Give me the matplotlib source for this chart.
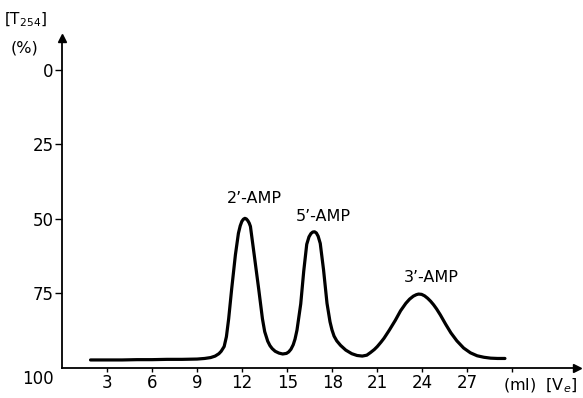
import matplotlib
matplotlib.use("Agg")
import matplotlib.pyplot as plt
from matplotlib.transforms import ScaledTranslation

# Elution profile: volume (ml) vs transmission at 254 nm (%)
volume = [1.9, 3, 4, 5, 6, 7, 8, 9, 9.5, 9.9, 10.2, 10.45, 10.6, 10.8, 10.95, 11.1,
          11.3, 11.55, 11.75, 11.87, 11.98, 12.08, 12.18, 12.28, 12.38, 12.47, 12.55,
          12.8, 13.1, 13.35, 13.5, 13.7, 13.85, 14.0, 14.2, 14.45, 14.7, 14.95, 15.1,
          15.25, 15.4, 15.52, 15.65, 15.9, 16.1, 16.3, 16.45, 16.58, 16.7, 16.82,
          16.94, 17.06, 17.2, 17.42, 17.65, 17.85, 17.98, 18.12, 18.3, 18.55, 18.9,
          19.3, 19.65, 20.0, 20.3, 20.55, 20.8, 21.0, 21.25, 21.45, 21.8, 22.2, 22.55,
          22.9, 23.15, 23.4, 23.6, 23.75, 23.95, 24.15, 24.35, 24.55, 24.75, 24.95,
          25.2, 25.55, 25.9, 26.3, 26.75, 27.2, 27.65, 28.1, 28.55, 29.0, 29.5]
transmission = [97.3, 97.3, 97.3, 97.2, 97.2, 97.1, 97.1, 97.0, 96.8, 96.5, 96.0, 95.2,
                94.4, 92.8, 89.5, 83.5, 73.5, 62, 54.8, 52.3, 50.8, 50.1, 49.8, 50.0,
                50.6, 51.4, 52.5, 62, 73.5, 83.5, 87.8, 91.0, 92.5, 93.5, 94.4, 95.0,
                95.3, 95.1, 94.6, 93.7, 92.2, 90.3, 87.3, 78.5, 67.5, 58.5, 56.0, 54.9,
                54.4, 54.3, 54.7, 55.8, 58.2, 67.1, 78.3, 84.5, 87.2, 89.3, 90.9, 92.4,
                94.0, 95.2, 95.8, 96.0, 95.7, 94.8, 93.8, 92.8, 91.3, 90.0, 87.3, 84,
                80.8, 78.3, 76.9, 75.9, 75.4, 75.2, 75.3, 75.8, 76.6, 77.6, 78.8, 80.2,
                82.2, 85.3, 88.2, 90.9, 93.3, 94.9, 95.9, 96.4, 96.7, 96.8, 96.8]

peak_names = ["2’-AMP", "5’-AMP", "3’-AMP"]
peak_label_x = [12.8, 17.4, 24.6]
peak_label_y = [43.3, 49.3, 69.5]

x_ticks = [3, 6, 9, 12, 15, 18, 21, 24, 27, 30]
x_ticklabels = ["3", "6", "9", "12", "15", "18", "21", "24", "27", ""]
y_ticks = [0, 25, 50, 75, 100]

plt.rcParams["font.family"] = "DejaVu Sans"

fig = plt.figure(figsize=(5.83, 3.98), dpi=100)
ax = fig.add_axes([62 / 583, 1 - 368 / 398, 515 / 583, 330 / 398])

ax.plot(volume, transmission, color="black", lw=2.3,
        solid_joinstyle="round", solid_capstyle="round")

for name, lx, ly in zip(peak_names, peak_label_x, peak_label_y):
    ax.text(lx, ly, name, ha="center", va="center", fontsize=11.5)

ax.set_xlim(0, 34.3)
ax.set_ylim(100, -10.7)

for side in ("top", "right"):
    ax.spines[side].set_visible(False)
for side in ("left", "bottom"):
    ax.spines[side].set_linewidth(1.3)

# arrowheads on both axes
ax.plot(1, 0, ">", color="black", ms=6, transform=ax.transAxes, clip_on=False)
ax.plot(0, 1, "^", color="black", ms=6, transform=ax.transAxes, clip_on=False)

ax.set_xticks(x_ticks)
ax.set_xticklabels(x_ticklabels)
ax.set_yticks(y_ticks)
ax.set_yticklabels([str(v) for v in y_ticks])
ax.tick_params(axis="x", direction="out", length=3, width=1, pad=1.5, labelsize=12)
ax.tick_params(axis="y", direction="out", length=5, width=1, pad=1, labelsize=12)

# the "100" sits below the corner, without its own tick
ax.yaxis.get_major_ticks()[-1].tick1line.set_visible(False)
lab100 = ax.get_yticklabels()[-1]
lab100.set_transform(lab100.get_transform()
                     + ScaledTranslation(0, -9 / 100, fig.dpi_scale_trans))

fig.text(25 / 583, 1 - 20 / 398, "[T$_{254}$]", ha="center", va="center", fontsize=11)
fig.text(24 / 583, 1 - 48 / 398, "(%)", ha="center", va="center", fontsize=11.5)
fig.text(540 / 583, 1 - 386 / 398, "(ml)  [V$_e$]", ha="center", va="center",
         fontsize=11.5)

fig.savefig("out.png", dpi=100)
